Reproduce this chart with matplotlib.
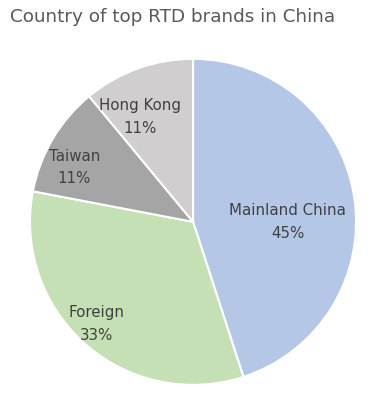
import matplotlib.pyplot as plt
import numpy as np

# data
countries = ["Mainland China", "Foreign", "Taiwan", "Hong Kong"]
shares = [45, 33, 11, 11]

colors = ["#B4C7E7", "#C5E0B4", "#A5A5A5", "#D0CECE"]
label_dist = [0.58, 0.86, 0.80, 0.72]
angle_shift = [-9, -2, 6, 7]

fig = plt.figure(figsize=(3.8, 4.03), dpi=100)
ax = fig.add_axes([0.079, 0.045, 0.858, 0.809])

wedges, _ = ax.pie(shares, colors=colors, startangle=90, counterclock=False,
                   wedgeprops=dict(edgecolor="white", linewidth=1.5))
ax.set_xlim(-1, 1)
ax.set_ylim(-1, 1)
ax.set_aspect("equal")

for w, name, val, d, sh in zip(wedges, countries, shares, label_dist, angle_shift):
    mid = np.deg2rad((w.theta1 + w.theta2) / 2 + sh)
    x, y = d * np.cos(mid), d * np.sin(mid)
    ax.text(x, y, f"{name}\n{val}%", ha="center", va="center",
            fontsize=10.8, color="#404040", linespacing=1.65)

fig.text(0.026, 0.958, "Country of top RTD brands in China", fontsize=13.2,
         color="#595959", ha="left", va="center")

fig.savefig("out.png", dpi=100)
